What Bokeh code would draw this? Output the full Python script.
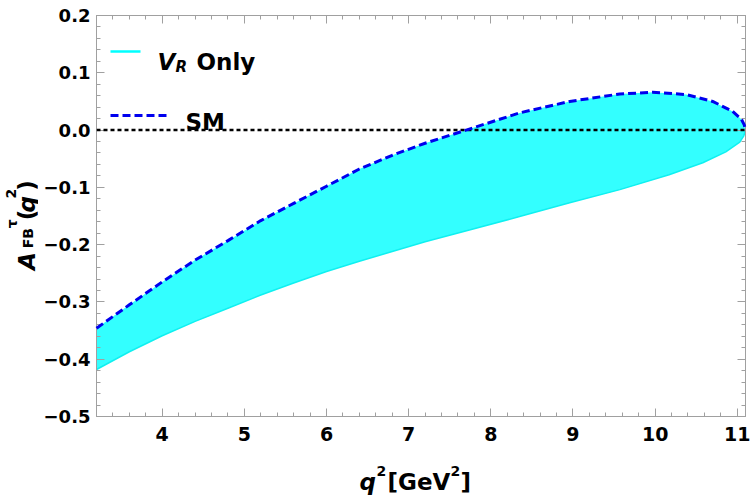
import math
from bokeh.plotting import figure
from bokeh.layouts import column, row
from bokeh.models import (Range1d, LinearAxis, SingleIntervalTicker, CustomJSTickFormatter,
                          Span, Label, Arrow)
from bokeh.core.properties import value
from bokeh.embed import file_html
from bokeh.resources import INLINE

# Standard Model forward-backward asymmetry (upper edge of the band)
sm_q2 = [3.2, 3.6, 4.0, 4.4, 4.8, 5.2, 5.6, 6.0, 6.4, 6.8, 7.2, 7.7,
         8.35, 8.96, 9.57, 9.97, 10.38, 10.7, 10.94, 11.05, 11.085, 11.1]
sm_afb = [-0.346, -0.305, -0.265, -0.227, -0.193, -0.158, -0.128, -0.098, -0.068,
          -0.044, -0.023, 0.0, 0.030, 0.050, 0.063, 0.066, 0.062, 0.050, 0.033, 0.019,
          0.009, 0.0]

# Lower edge of the V_R-only band
vr_q2 = [3.2, 3.6, 4.0, 4.4, 4.8, 5.2, 5.6, 6.0, 6.4, 6.8, 7.2, 7.75,
         8.35, 8.96, 9.57, 10.17, 10.58, 10.86, 11.03, 11.08, 11.1]
vr_afb_low = [-0.418, -0.387, -0.359, -0.334, -0.311, -0.288, -0.267, -0.247, -0.229,
              -0.212, -0.195, -0.174, -0.151, -0.127, -0.104, -0.078, -0.057, -0.038,
              -0.021, -0.010, 0.0]

zero_level = 0.0

FONT = "DejaVu Sans"
AXIS_GRAY = "#a0a0a0"
W, H = 750, 496
YT_W = 38          # strip holding the rotated y title
XT_H = 36          # strip holding the x title
MAIN_W, MAIN_H = W - YT_W, H - XT_H

p = figure(width=MAIN_W, height=MAIN_H, output_backend="svg", toolbar_location=None,
           x_range=Range1d(3.2, 11.1), y_range=Range1d(-0.5, 0.2),
           x_axis_type=None, y_axis_type=None,
           min_border_left=96 - YT_W, min_border_right=5, min_border_top=15,
           min_border_bottom=MAIN_H - 416)
p.grid.visible = False
p.outline_line_color = AXIS_GRAY
p.background_fill_color = "white"
p.border_fill_color = "white"

y_fmt = CustomJSTickFormatter(code="""
    if (Math.abs(tick) < 1e-9) return "0.0";
    return tick < 0 ? "\\u2212" + Math.abs(tick).toFixed(1) : tick.toFixed(1);
""")
x_fmt = CustomJSTickFormatter(code="return Math.round(tick).toString();")
blank_fmt = CustomJSTickFormatter(code="return '';")


def style_axis(ax, labelled, size="18px"):
    ax.axis_line_color = AXIS_GRAY
    ax.major_tick_line_color = AXIS_GRAY
    ax.minor_tick_line_color = AXIS_GRAY
    ax.major_tick_in = 8
    ax.major_tick_out = 0
    ax.minor_tick_in = 4
    ax.minor_tick_out = 0
    ax.major_label_text_font = FONT
    ax.major_label_text_font_style = "bold"
    ax.major_label_text_color = "black"
    ax.major_label_text_font_size = size if labelled else "0px"
    if not labelled:
        ax.major_label_standoff = 0


x_ticker = SingleIntervalTicker(interval=1, num_minor_ticks=5)
y_ticker = SingleIntervalTicker(interval=0.1, num_minor_ticks=5)

bottom = LinearAxis(ticker=x_ticker, formatter=x_fmt)
style_axis(bottom, True, "19px")
bottom.major_label_standoff = 10
p.add_layout(bottom, "below")

left = LinearAxis(ticker=y_ticker, formatter=y_fmt)
style_axis(left, True, "18px")
left.major_label_standoff = 6
p.add_layout(left, "left")

top = LinearAxis(ticker=x_ticker, formatter=blank_fmt)
style_axis(top, False)
p.add_layout(top, "above")

right = LinearAxis(ticker=y_ticker, formatter=blank_fmt)
style_axis(right, False)
p.add_layout(right, "right")

# Band between V_R-only lower edge and SM curve
band_x = sm_q2 + vr_q2[::-1]
band_y = sm_afb + vr_afb_low[::-1]
p.patch(band_x, band_y, fill_color="#33ffff", fill_alpha=1.0, line_color=None)
p.line(vr_q2, vr_afb_low, line_color="#10f0f0", line_width=1.5)

p.add_layout(Span(location=zero_level, dimension="width", line_color="black",
                  line_width=2.5, line_dash="4 3"))

sm = p.line(sm_q2, sm_afb, line_color="#0000ee", line_width=3, line_dash="8 4")
sm.level = "overlay"


def label(x, y, s, size, style="bold"):
    p.add_layout(Label(x=x, y=y, x_units="screen", y_units="screen", text=s,
                       text_font=FONT, text_font_style=style, text_font_size=size,
                       text_color="black", text_baseline="alphabetic", text_align="left"))


# Legend
p.add_layout(Arrow(end=None, x_start=14, y_start=365, x_end=44, y_end=365,
                   start_units="screen", end_units="screen",
                   line_color="#00ffff", line_width=2.5))
label(61, 355, "V", "23px", "bold italic")
label(79, 350, "R", "15px", "bold italic")
label(100, 355, "Only", "23px")

p.add_layout(Arrow(end=None, x_start=14, y_start=301, x_end=71, y_end=301,
                   start_units="screen", end_units="screen",
                   line_color="#0000ee", line_width=3, line_dash="8 4"))
label(89, 295, "SM", "23px")


def strip(width, height):
    f = figure(width=width, height=height, output_backend="svg", toolbar_location=None,
               x_range=Range1d(0, width), y_range=Range1d(0, height),
               x_axis_type=None, y_axis_type=None, min_border=0)
    f.grid.visible = False
    f.outline_line_color = None
    f.border_fill_color = "white"
    f.background_fill_color = "white"
    return f


def piece(f, x, y, s, size, style="bold", angle=0.0):
    f.text(x=[x], y=[y], text=[s], text_font=value(FONT), text_font_style=style,
           text_font_size=size, text_color="black", angle=angle,
           text_baseline="alphabetic", text_align="left")


# y-axis title: A_FB^tau (q^2), rotated; y measured up from the strip's bottom
ytf = strip(YT_W, MAIN_H)
rot = math.pi / 2
y0 = 168
piece(ytf, 26, y0, "A", "23px", "bold italic", rot)
piece(ytf, 27, y0 + 25, "FB", "14px", "bold", rot)
piece(ytf, 11, y0 + 48, "\u03c4", "14px", "bold", rot)
piece(ytf, 26, y0 + 57, "(", "23px", "bold", rot)
piece(ytf, 26, y0 + 66, "q", "23px", "bold italic", rot)
piece(ytf, 10, y0 + 82, "2", "14px", "bold", rot)
piece(ytf, 26, y0 + 91, ")", "23px", "bold", rot)

# x-axis title: q^2 [GeV^2]
xtf = strip(W, XT_H)
piece(xtf, 359, 15, "q", "23px", "bold italic")
piece(xtf, 376, 26, "2", "14px")
piece(xtf, 387, 15, "[GeV", "23px")
piece(xtf, 450, 26, "2", "14px")
piece(xtf, 460, 15, "]", "23px")

layout = column(row(ytf, p), xtf)
open("out.html", "w").write(file_html(layout, INLINE))
